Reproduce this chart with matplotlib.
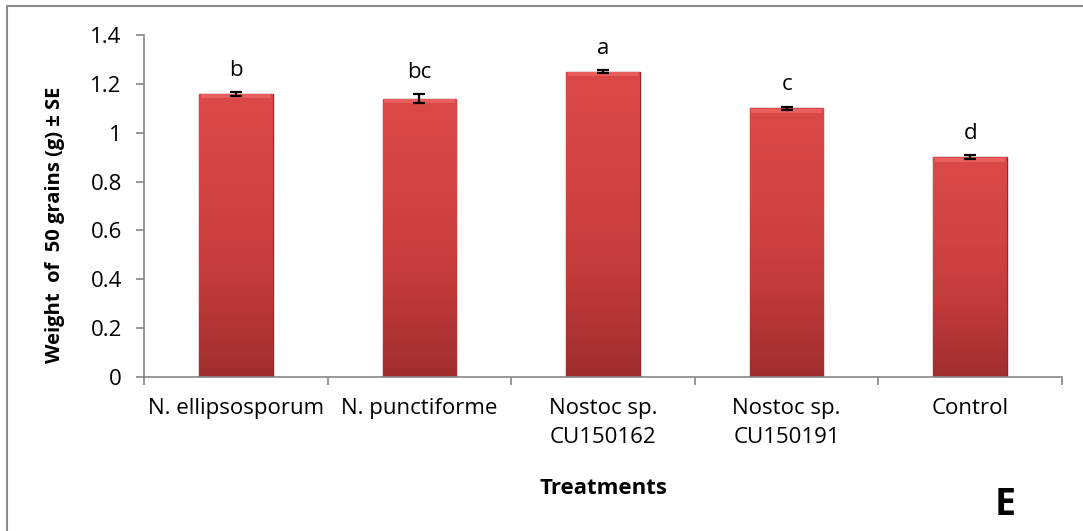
import matplotlib
matplotlib.use("Agg")
import matplotlib.pyplot as plt
import numpy as np
from matplotlib.colors import LinearSegmentedColormap
from matplotlib.patches import Rectangle

categories = ["N. ellipsosporum", "N. punctiforme", "Nostoc sp.\nCU150162",
              "Nostoc sp.\nCU150191", "Control"]
values = [1.16, 1.14, 1.25, 1.10, 0.90]
errors = [0.008, 0.018, 0.007, 0.007, 0.007]
letters = ["b", "bc", "a", "c", "d"]
yticks = [0, 0.2, 0.4, 0.6, 0.8, 1.0, 1.2, 1.4]
ytick_labels = ["0", "0.2", "0.4", "0.6", "0.8", "1", "1.2", "1.4"]

plt.rcParams['font.family'] = ['Open Sans', 'DejaVu Sans']

W, H = 1083, 531
fig = plt.figure(figsize=(W / 100, H / 100), dpi=100)
ax = fig.add_axes([144 / W, 154 / H, (1062 - 144) / W, (377 - 35) / H])

# figure border (top & left visible)
fig.patches.append(Rectangle((7 / W, -0.1), 1.2, (H - 6) / H + 0.1,
                             transform=fig.transFigure, fill=False,
                             edgecolor="#8c8c8c", linewidth=1.5))

x = np.arange(len(categories))
bars = ax.bar(x, values, width=0.4, color="#CC3E3E", edgecolor="#8E2A2A",
              linewidth=1.0, zorder=2)

cmap = LinearSegmentedColormap.from_list("redgrad", ["#A02E2E", "#C23A3A", "#D44444", "#DB4848"])
grad = np.linspace(0, 1, 256).reshape(-1, 1)
for b in bars:
    x0, w, h = b.get_x(), b.get_width(), b.get_height()
    im = ax.imshow(grad, extent=[x0, x0 + w, 0, h], origin="lower", aspect="auto",
                   cmap=cmap, zorder=2.5)
    im.set_clip_path(b)
    # top bevel highlight
    ax.add_patch(Rectangle((x0 + w * 0.02, h - 0.018), w * 0.96, 0.016, facecolor="#EB5E5E",
                           edgecolor="none", zorder=2.6))

ax.errorbar(x, values, yerr=errors, fmt="none", ecolor="black", elinewidth=1.6,
            capsize=4.5, capthick=1.6, zorder=3)

for xi, v, e, lab in zip(x, values, errors, letters):
    ax.annotate(lab, (xi, v + e), xytext=(0, 8), textcoords="offset points",
                ha="center", va="bottom", fontsize=16)

ax.set_xlim(-0.5, len(categories) - 0.5)
ax.set_ylim(0, 1.4)
ax.set_yticks(yticks)
ax.set_yticklabels(ytick_labels, fontsize=16)
ax.set_xticks(x)
ax.set_xticklabels(categories, fontsize=16, linespacing=1.5)
ax.set_xticks(np.arange(-0.5, len(categories)), minor=True)
ax.tick_params(axis="x", which="major", length=0, pad=15)
ax.tick_params(axis="x", which="minor", length=6, color="#868686", width=1.2)
ax.tick_params(axis="y", length=6, color="#868686", width=1.2, pad=10)

for s in ["top", "right"]:
    ax.spines[s].set_visible(False)
for s in ["left", "bottom"]:
    ax.spines[s].set_color("#868686")
    ax.spines[s].set_linewidth(1.2)

ax.set_ylabel("Weight  of  50 grains (g) ± SE", fontsize=14.5, fontweight="bold")
ax.yaxis.set_label_coords(-0.097, 0.445)
ax.yaxis.label.set_va("center")
ax.set_xlabel("Treatments", fontsize=16, fontweight="bold")
ax.xaxis.set_label_coords(0.5, -(488 - 377) / 342)
ax.xaxis.label.set_va("center")

fig.text(1005 / W, 1 - 505 / H, "E", fontsize=27, fontweight="bold",
         ha="center", va="center")

fig.savefig("out.png", dpi=100)
